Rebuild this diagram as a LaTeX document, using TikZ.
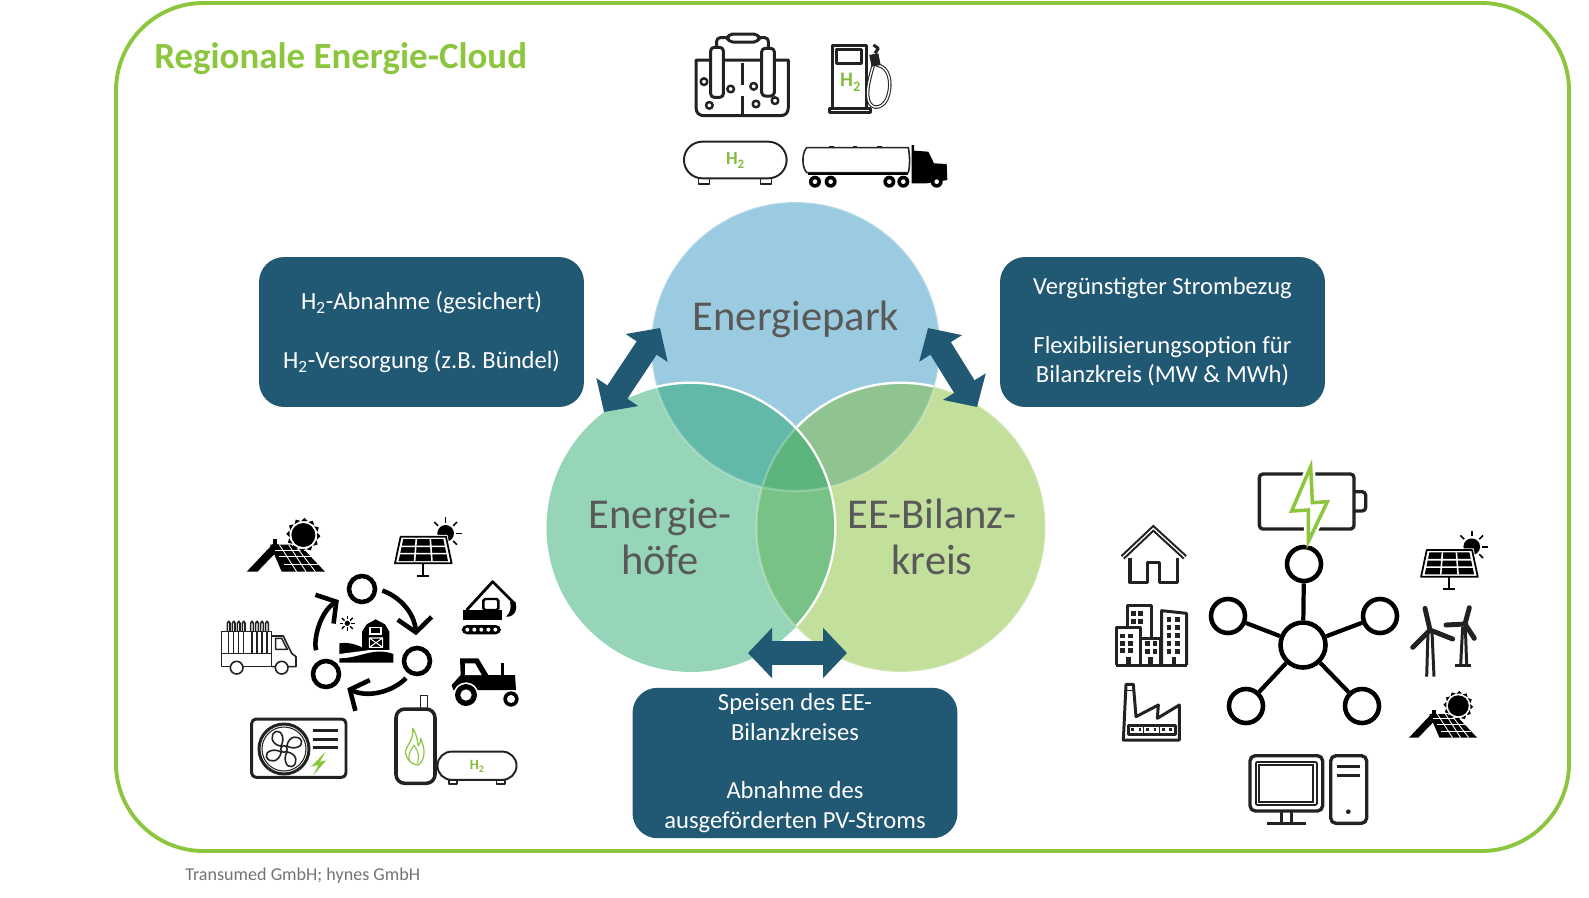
\documentclass[tikz,border=0pt]{standalone}
\usepackage{fontspec}
\setmainfont{Carlito}
\usetikzlibrary{arrows.meta, shapes.geometric}
\definecolor{cloudgreen}{HTML}{8CC63F}
\definecolor{boxblue}{HTML}{215873}
\definecolor{labelgray}{HTML}{595959}
\definecolor{iconblack}{HTML}{222222}
\definecolor{parkblue}{HTML}{9BCBE0}
\definecolor{hofgreen}{HTML}{96D5B8}
\definecolor{bilanzgreen}{HTML}{C2DF9C}
\definecolor{parkhof}{HTML}{62B9A8}
\definecolor{parkbilanz}{HTML}{8FC490}
\definecolor{hofbilanz}{HTML}{79C285}
\definecolor{middleall}{HTML}{5CB57D}
\tikzstyle{venn} = [circle, minimum size=5.78cm, inner sep=0pt]
\tikzstyle{vennlabel} = [font=\fontsize{24.2}{26.5}\selectfont, text=labelgray, align=center, inner sep=0pt]
\tikzstyle{infobox} = [rectangle, rounded corners=.5cm, fill=boxblue, text=white, align=center, minimum width=6.5cm, minimum height=3cm, font=\fontsize{14}{16.7}\selectfont, execute at begin node={\rule{0pt}{14pt}}]
\tikzstyle{bigarrow} = [draw=boxblue, line width=.48cm, {Triangle[width=.98cm,length=.48cm]}-{Triangle[width=.98cm,length=.48cm]}]
\tikzstyle{vennedge} = [white, line width=1.3pt]
\tikzstyle{netnode} = [circle, draw=black, line width=2.6pt, minimum size=.68cm, inner sep=0pt]
\tikzstyle{netline} = [black, line width=2.4pt]
\tikzstyle{cyclearrow} = [black, line width=2.6pt, -{Straight Barb[width=.68cm,length=.28cm]}]
\tikzstyle{icon} = [iconblack, line width=1.7pt, line join=round]
\tikzstyle{thinicon} = [iconblack, line width=.9pt, line join=round]
\tikzstyle{blade} = [iconblack, line width=2.8pt, line cap=round]
\tikzstyle{hydrogen} = [text=cloudgreen!95!black, inner sep=0pt, transform shape]
\tikzset{
  hydrotank/.pic={
    \begin{scope}[scale=1/3]
    \draw[thinicon, line width=1.1pt, fill=white] (-99,-55) -- (99,-55) arc[start angle=-90,end angle=90,radius=55] -- (-99,55) arc[start angle=90,end angle=270,radius=55] -- cycle;
    \draw[thinicon] (-110,55) rectangle (-78,72);
    \draw[thinicon] (76,55) rectangle (109,72);
    \node[hydrogen, font=\fontsize{31.5}{36}\bfseries\selectfont] (-tanklabel) at (0,2) {H\textsubscript{2}};
    \end{scope}
  },
  solarpanel/.pic={
    \begin{scope}[scale=1/3]
    \fill (67,-50) circle (25);
    \foreach \a in {-135,-90,-45,0,45}
      \draw[black, line width=.9pt] (67,-50) ++(\a:32) -- ++(\a:16);
    \draw[white, fill=white, line width=2pt] (-68,-40) -- (68,-40) -- (85,40) -- (-85,40) -- cycle;
    \draw[black, line width=1pt, line join=round] (-68,-40) -- (68,-40) -- (85,40) -- (-85,40) -- cycle;
    \fill[black] (-60,-33) -- (60,-33) -- (74,33) -- (-74,33) -- cycle;
    \draw[white, line width=.9pt] (-21,-33) -- (-26,33) (21,-33) -- (26,33) (-65,-11) -- (65,-11) (-70,11) -- (70,11);
    \draw[black, line width=1.2pt] (0,40) -- (0,76) (-18,77) -- (18,77);
    \end{scope}
  },
  solarroof/.pic={
    \begin{scope}[scale=1/3]
    \fill[black] (-120,45) -- (-38,-42) -- (-22,-35) -- (-30,-15) -- (-88,45) -- cycle;
    \fill[black] (-42,-52) rectangle (-28,-36);
    \fill[black] (-50,-36) -- (38,-36) -- (115,45) -- (-15,45) -- cycle;
    \draw[white, line width=.5pt] (-36,-20) -- (54,-20) (-22,0) -- (74,0) (-8,22) -- (95,22);
    \draw[white, line width=.5pt] (-22,-36) -- (30,45) (6,-36) -- (58,45) (24,-36) -- (86,45);
    \fill[white] (50,-65) circle (46);
    \fill[black] (50,-65) circle (36);
    \foreach \a in {0,30,...,330}
      \fill[black] (50,-65) ++(\a-9:42) -- ++(\a+45:14) -- ++(\a+135:14) -- cycle;
    \end{scope}
  }
}

\begin{document}
\begin{tikzpicture}[x=.02cm, y=-.02cm]
\useasboundingbox (0,0) rectangle (1589,897);

\draw[cloudgreen, line width=2.2pt, rounded corners=1.75cm] (116,3) rectangle (1569,851);
\node[anchor=west, inner sep=0pt, text=cloudgreen, font=\fontsize{21}{24}\bfseries\selectfont] (cloudtitle) at (154,59) {Regionale Energie-Cloud};
\node[anchor=west, inner sep=0pt, text=black!55, font=\fontsize{10.3}{13}\selectfont] (credit) at (185,876) {Transumed GmbH; hynes GmbH};

% venn circles
\node[venn, fill=parkblue] (parkcircle) at (795.5,346.5) {};
\node[venn, fill=hofgreen] (hofcircle) at (691,527.5) {};
\node[venn, fill=bilanzgreen] (bilanzcircle) at (901,527.5) {};
\begin{scope}
  \clip (795.5,346.5) circle (144.5);
  \fill[parkhof] (691,527.5) circle (144.5);
  \fill[parkbilanz] (901,527.5) circle (144.5);
\end{scope}
\begin{scope}
  \clip (691,527.5) circle (144.5);
  \fill[hofbilanz] (901,527.5) circle (144.5);
  \clip (795.5,346.5) circle (144.5);
  \fill[middleall] (901,527.5) circle (144.5);
\end{scope}
\draw[vennedge, opacity=.25] (795.5,346.5) circle (144.5) (901,527.5) circle (144.5);
\draw[vennedge] (hofcircle.115) arc[start angle=-115, end angle=43, radius=144.5];
\draw[vennedge] (bilanzcircle.77) arc[start angle=-77, end angle=-136, radius=144.5];

\node[vennlabel] (parklabel) at (796,319) {Energiepark};
\node[vennlabel] (hoflabel) at (660,537) {Energie-\\höfe};
\node[vennlabel] (bilanzlabel) at (932,537) {EE-Bilanz-\\kreis};

% double arrows
\coordinate (hofa) at (604,412);
\coordinate (parka) at (660,328);
\coordinate (parkb) at (928,328);
\coordinate (bilanzb) at (977,407);
\coordinate (hofc) at (748,653);
\coordinate (bilanzc) at (847,653);
\draw[bigarrow] (hofa) -- (parka);
\draw[bigarrow] (parkb) -- (bilanzb);
\draw[bigarrow] (hofc) -- (bilanzc);

\node[infobox] (hofbox) at (421.5,332) {H\textsubscript{2}-Abnahme (gesichert)\\[16.7pt]H\textsubscript{2}-Versorgung (z.B. Bündel)};
\node[infobox] (bilanzbox) at (1162.5,332) {Vergünstigter Strombezug\\[16.7pt]Flexibilisierungsoption für\\Bilanzkreis (MW \& MWh)};
\node[infobox, minimum height=2.96cm] (speisbox) at (795,763) {Speisen des EE-\\Bilanzkreises\\[16.7pt]Abnahme des\\ausgeförderten PV-Stroms};

% electrolyser, pump, truck
\begin{scope}[shift={(660,20)}, scale=1/3]
  \draw[icon] (108,120) -- (385,120) -- (385,262) .. controls (385,280) and (375,287) .. (360,287) -- (133,287) .. controls (118,287) and (108,280) .. (108,262) -- cycle;
  \draw[icon, fill=white, rounded corners=2pt] (152,82) rectangle (190,232);
  \draw[icon, fill=white, rounded corners=2pt] (305,85) rectangle (343,228);
  \draw[icon, rounded corners=2pt] (170,82) -- (170,53) -- (202,53);
  \draw[icon, rounded corners=2pt] (298,53) -- (325,53) -- (325,85);
  \draw[icon, rounded corners=3pt] (202,42) rectangle (298,66);
  \draw[icon] (246,130) -- (246,195) (246,228) -- (246,287);
  \foreach \x/\y in {132/185, 212/207, 281/199, 148/256, 288/252, 345/242}
    \draw[icon, line width=1.4pt] (\x,\y) circle (10);
  % pump
  \draw[icon] (518,265) -- (518,75) -- (618,75) -- (618,265);
  \draw[icon] (530,87) rectangle (605,130);
  \draw[icon] (507,265) rectangle (630,278);
  \node[hydrogen, font=\fontsize{35}{40}\bfseries\selectfont] (pumplabel) at (571,187) {H\textsubscript{2}};
  \draw[iconblack, line width=.6pt, double=white, double distance=.8pt] (650,135) .. controls (690,140) and (695,190) .. (685,225) .. controls (675,265) and (635,275) .. (625,240) .. controls (618,210) and (630,170) .. (640,135);
  \fill[iconblack] (628,105) -- (655,100) -- (662,135) -- (635,140) -- cycle;
  \draw[icon] (645,100) -- (655,85) -- (640,75);
  % truck
  \draw[thinicon, fill=white] (440,383) -- (745,383) .. controls (750,410) and (750,435) .. (745,458) -- (440,458) .. controls (425,440) and (425,400) .. (440,383) -- cycle;
  \foreach \x in {515,585,658}
    \fill[iconblack] (\x-7,378) rectangle (\x+7,383);
  \fill[black] (445,458) rectangle (745,466);
  \fill[black] (755,490) -- (755,375) -- (762,375) -- (762,392) -- (805,395) -- (822,430) -- (860,432) -- (862,480) -- (800,490) -- cycle;
  \foreach \x in {465,512,688,730,830} {
    \fill[black] (\x,485) circle (18);
    \fill[white] (\x,485) circle (7);
  }
\end{scope}
\pic at (735.3,160) {hydrotank};

% left group of icons
\pic at (286.7,556.7) {solarroof};
\pic at (423.3,550) {solarpanel};
\pic[scale=.77] at (477,765.7) {hydrotank};
\node[netnode, minimum size=.52cm] (cycletop) at (362,589) {};
\node[netnode, minimum size=.52cm] (cycleright) at (417,661) {};
\node[netnode, minimum size=.52cm] (cycleleft) at (326,674) {};
\draw[cyclearrow, shorten <=3pt, shorten >=6pt] (cycletop.east) .. controls (396,595) and (414,610) .. (cycleright.north);
\draw[cyclearrow, shorten <=3pt, shorten >=6pt] (cycleright.-118) .. controls (392,692) and (368,698) .. (cycleleft.-40);
\draw[cyclearrow, shorten <=6pt, shorten >=6pt] (cycleleft.116) .. controls (313,640) and (320,612) .. (cycletop.201);
\begin{scope}[shift={(210,500)}, scale=1/3]
  % excavator
  \draw[black, line width=1.6pt, line join=round] (770,330) -- (848,245) -- (915,312);
  \fill[black] (915,305) .. controls (925,325) and (915,352) .. (888,350) .. controls (900,340) and (905,325) .. (900,305) -- cycle;
  \fill[black] (758,330) rectangle (875,360);
  \draw[black, line width=1.4pt, fill=white, rounded corners=1pt] (820,297) rectangle (865,330);
  \fill[black, rounded corners=3pt] (755,375) rectangle (873,403);
  \foreach \x in {772,793,814,835,856}
    \fill[white] (\x,389) circle (6);
  % tractor
  \fill[black] (750,475) -- (805,475) -- (835,525) -- (915,525) -- (918,570) -- (730,570) -- (725,555) -- (752,525) -- cycle;
  \fill[white] (765,490) -- (795,490) -- (815,525) -- (765,525) -- cycle;
  \draw[black, line width=1.8pt] (878,525) -- (878,490);
  \fill[white] (768,585) circle (38);
  \fill[black] (768,585) circle (33);
  \fill[white] (768,585) circle (17);
  \fill[white] (903,597) circle (27);
  \fill[black] (903,597) circle (23);
  \fill[white] (903,597) circle (12);
  % cylinder truck
  \foreach \x in {52,67,82,97,122,137,152,167} {
    \draw[thinicon, rounded corners=1pt] (\x,395) -- (\x,364) -- (\x+8,364) -- (\x+8,395);
    \draw[thinicon] (\x+4,395) -- (\x+4,460);
  }
  \draw[thinicon] (35,395) rectangle (185,460);
  \draw[thinicon] (35,460) -- (35,500) -- (185,500) -- (185,460);
  \draw[thinicon] (185,408) -- (220,408) -- (245,460) -- (258,470) -- (258,500) -- (185,500);
  \draw[thinicon] (197,415) -- (215,415) -- (232,448) -- (197,448) -- cycle;
  \foreach \x in {80,215}
    \draw[thinicon, fill=white] (\x,503) circle (19);
  % farm in the cycle
  \fill[black] (388,462) -- (388,430) .. controls (420,425) and (450,435) .. (482,458) -- cycle;
  \fill[black] (456,450) -- (456,395) -- (470,373) -- (497,358) -- (525,373) -- (538,395) -- (538,450) -- cycle;
  \draw[white, line width=.6pt] (480,383) rectangle (513,402);
  \draw[white, line width=.6pt] (478,414) rectangle (518,442) (478,414) -- (518,442) (478,442) -- (518,414);
  \fill[white] (388,462) -- (388,475) .. controls (450,475) and (490,440) .. (550,462) -- (550,450) -- (480,450) -- cycle;
  \fill[black] (388,488) -- (388,475) .. controls (450,475) and (490,440) .. (550,462) -- (550,488) -- cycle;
  \fill[black] (412,370) circle (8);
  \foreach \a in {0,45,...,315}
    \draw[black, line width=.8pt] (412,370) ++(\a:12) -- ++(\a:11);
  % heat pump
  \draw[icon, rounded corners=2.5pt] (125,657) rectangle (408,832);
  \draw[icon] (222,747) circle (75);
  \draw[thinicon, line width=.6pt] (222,747) circle (66);
  \begin{scope}[shift={(222,747)}]
    \foreach \a in {10,100,190,280}
      \draw[thinicon, rotate=\a] (10,-8) .. controls (22,-38) and (52,-34) .. (56,-14) .. controls (58,4) and (26,8) .. (10,-8) -- cycle;
    \draw[thinicon] (0,0) circle (10);
  \end{scope}
  \draw[icon] (310,692) -- (385,692) (310,717) -- (385,717) (310,742) -- (385,742);
  \fill[cloudgreen] (347,755) -- (303,800) -- (325,795) -- (310,826) -- (349,781) -- (330,785) -- cycle;
  % gas tank
  \draw[icon, line width=2pt, rounded corners=5pt] (558,627) rectangle (675,850);
  \draw[thinicon] (632,627) -- (632,586) -- (652,586) -- (652,627);
  \draw[cloudgreen, line width=.7pt, line join=round] (608,685) .. controls (622,705) and (622,725) .. (625,738) .. controls (632,732) and (632,722) .. (632,715) .. controls (645,745) and (648,775) .. (625,795) .. controls (605,795) and (590,780) .. (586,755) .. controls (590,735) and (612,720) .. (608,685) -- cycle;
  \draw[cloudgreen, line width=.6pt, line join=round] (600,785) .. controls (590,760) and (605,750) .. (612,735) .. controls (625,755) and (630,770) .. (622,790);
\end{scope}

% right group of icons
\pic at (1449.4,563.4) {solarpanel};
\pic[scale=.87] at (1443.8,724.6) {solarroof};
\node[netnode, minimum size=.9cm] (netcenter) at (1303,645) {};
\node[netnode] (nettop) at (1304,564) {};
\node[netnode] (netleft) at (1228,616) {};
\node[netnode] (netright) at (1380,616) {};
\node[netnode] (netlow) at (1246,706) {};
\node[netnode] (netlower) at (1362,706) {};
\foreach \n in {nettop, netleft, netright, netlow, netlower}
  \draw[netline] (netcenter) -- (\n);
\begin{scope}[shift={(1100,450)}, scale=1/3]
  % battery
  \draw[icon, line width=1.9pt, rounded corners=2pt] (478,72) rectangle (762,237);
  \draw[icon, line width=1.9pt, rounded corners=2pt] (762,125) -- (797,125) -- (797,183) -- (762,183);
  \draw[white, line width=5pt, line join=round] (632,50) -- (575,183) -- (625,180) -- (625,275) -- (682,155) -- (637,158) -- cycle;
  \draw[cloudgreen, fill=white, line width=2pt, line join=miter] (632,50) -- (575,183) -- (625,180) -- (625,275) -- (682,155) -- (637,158) -- cycle;
  % house
  \draw[iconblack, line width=1.2pt, double=white, double distance=.7pt, line join=miter] (68,322) -- (160,235) -- (255,322);
  \draw[icon, line width=2pt] (90,325) -- (90,397) -- (143,397) -- (143,337) -- (178,337) -- (178,397) -- (232,397) -- (232,325);
  % buildings
  \draw[icon] (82,530) -- (82,467) -- (155,467) -- (155,565);
  \draw[icon] (48,645) -- (48,532) -- (122,532) -- (122,645);
  \draw[icon] (122,565) -- (182,565) -- (182,645);
  \draw[icon] (185,645) -- (185,482) -- (260,490) -- (260,645);
  \draw[icon] (48,645) -- (260,645);
  \foreach \x/\y in {100/490, 122/490, 100/514, 122/514, 68/558, 92/558, 68/580, 92/580, 68/602, 92/602, 142/580, 165/580, 142/604, 165/604, 207/508, 232/508, 207/532, 232/532, 207/556, 232/556, 207/580, 232/580, 207/604, 232/604}
    \fill[iconblack] (\x-7,\y-7) rectangle (\x+7,\y+7);
  \foreach \x in {86,152,222}
    \fill[iconblack] (\x-7,622) rectangle (\x+7,645);
  % factory
  \draw[icon] (70,870) -- (78,703) -- (100,703) -- (108,800) -- (175,765) -- (172,805) -- (238,765) -- (238,870) -- cycle;
  \draw[thinicon] (78,722) -- (100,722);
  \draw[icon] (85,826) rectangle (225,852);
  \draw[icon, line width=.9pt] (130,826) -- (130,852) (178,826) -- (178,852);
  \foreach \x in {97,120,142,165,190,212}
    \fill[iconblack] (\x-4,835) rectangle (\x+4,843);
  % wind turbines
  \draw[icon] (980,680) -- (984,545) (1002,680) -- (996,545);
  \draw[blade] (990,540) -- (975,475) (990,540) -- (1058,567) (990,540) -- (938,592);
  \draw[icon] (1082,645) -- (1088,530) (1100,645) -- (1096,530);
  \draw[blade] (1095,522) -- (1108,473) (1095,522) -- (1038,525) (1095,522) -- (1123,565);
  \draw[icon] (1065,646) -- (1113,646);
  % computer
  \draw[icon, line width=1.9pt, rounded corners=3pt] (450,917) rectangle (668,1083);
  \draw[icon, line width=1.1pt, double=white, double distance=.8pt] (473,940) rectangle (645,1060);
  \draw[icon] (545,1083) -- (545,1118) (575,1083) -- (575,1118) (500,1120) -- (618,1120);
  \draw[icon, line width=1.9pt, rounded corners=3pt] (692,917) rectangle (800,1120);
  \draw[icon] (710,950) -- (780,950) (710,976) -- (780,976);
  \fill[iconblack] (745,1085) circle (7);
\end{scope}

\end{tikzpicture}
\end{document}
